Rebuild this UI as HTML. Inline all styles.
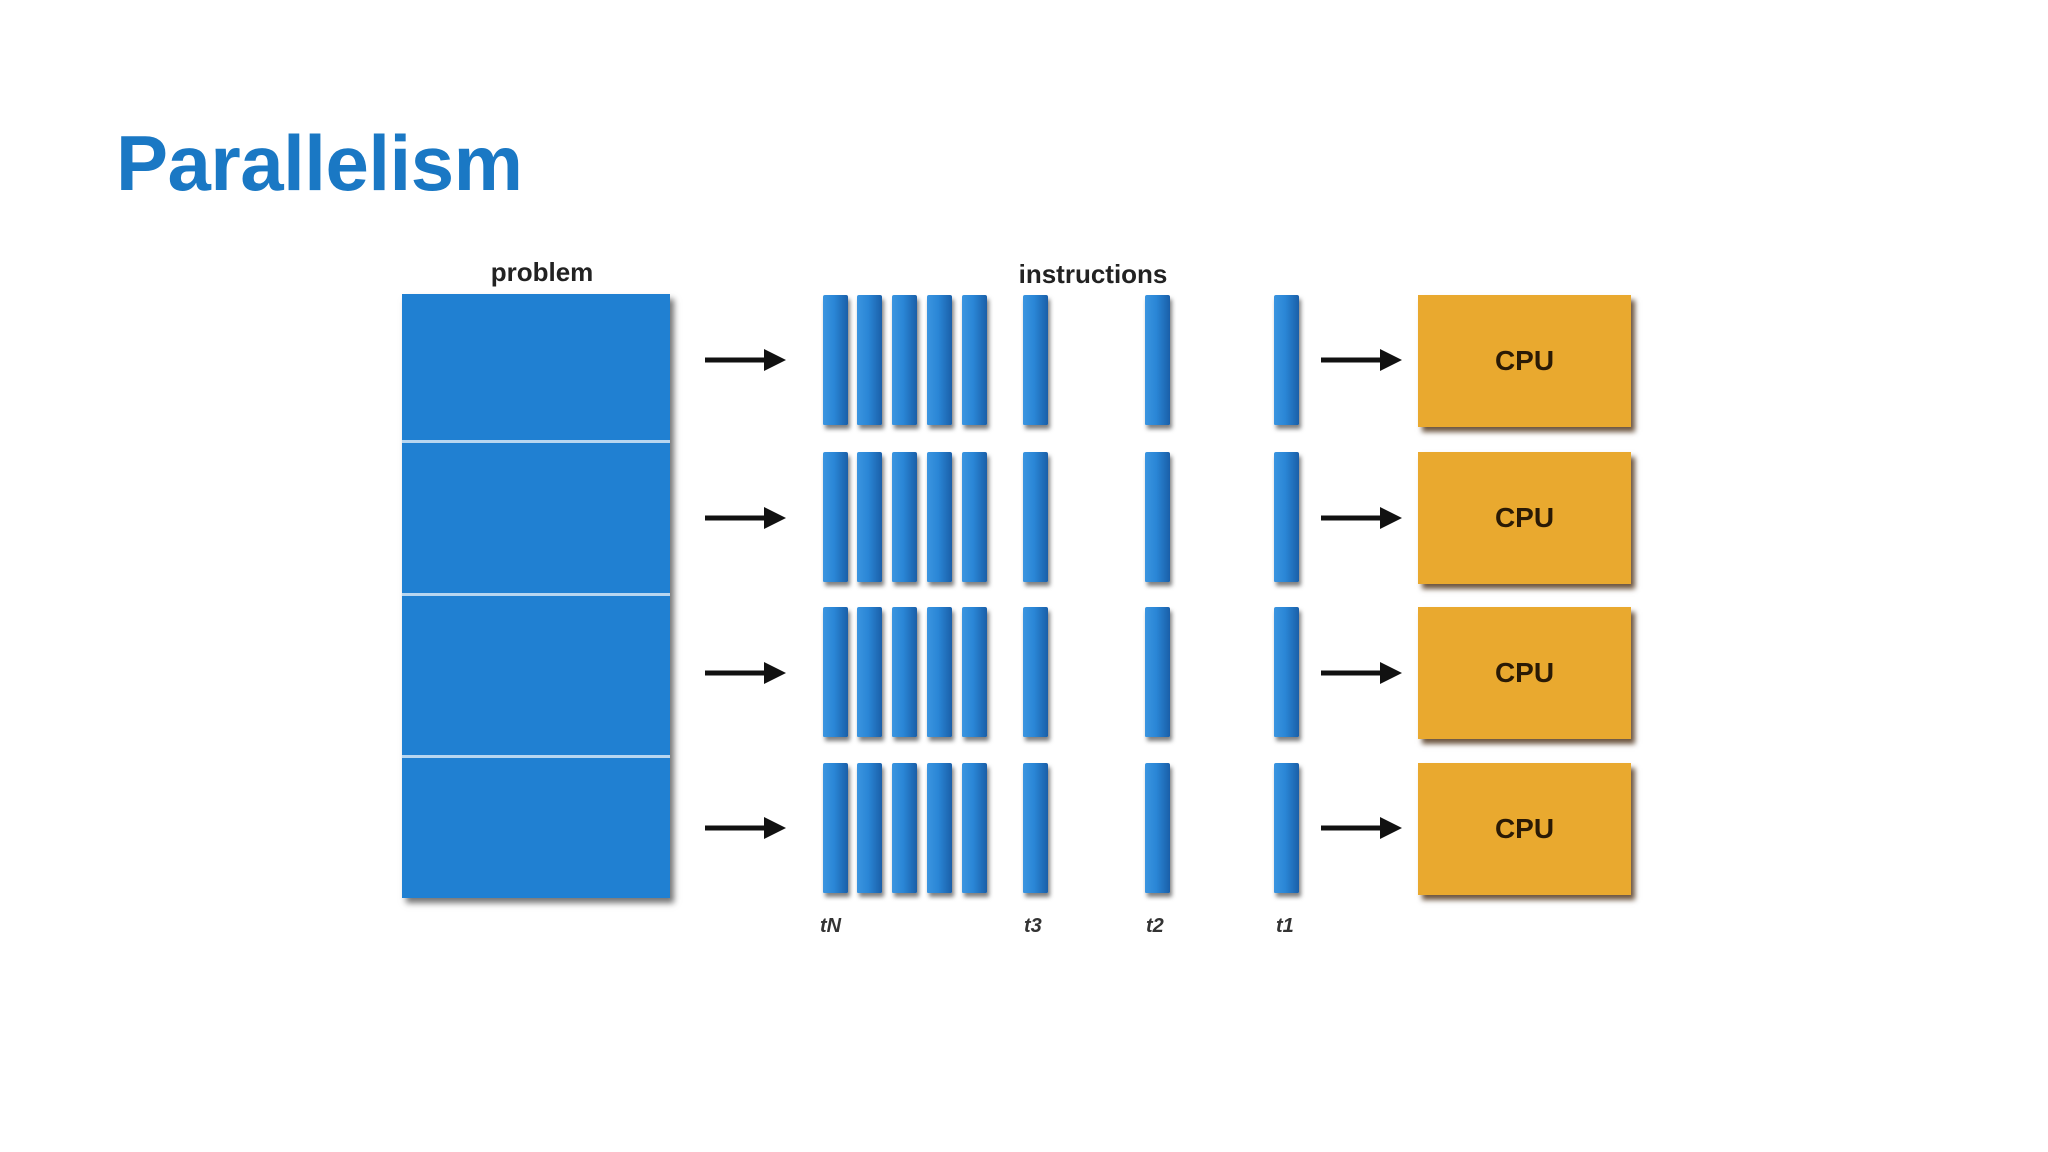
<!DOCTYPE html>
<html><head><meta charset="utf-8"><style>
html,body{margin:0;padding:0;background:#fff;}
body{width:2048px;height:1152px;position:relative;overflow:hidden;font-family:"Liberation Sans",Arial,sans-serif;}
.t{position:absolute;left:116px;top:118px;font-size:78px;font-weight:bold;color:#1a78c4;letter-spacing:-0.5px;}
.lbl{position:absolute;font-weight:bold;font-size:26px;color:#222;transform:translateX(-50%);}
.prob{position:absolute;left:402px;top:294px;width:268px;height:604px;background:#2080d2;box-shadow:4px 5px 6px rgba(0,0,0,0.55);}
.div{position:absolute;left:402px;width:268px;height:3px;background:#b8d6f0;}
.bar{position:absolute;width:25px;height:130px;background:linear-gradient(90deg,#3b95e0 0%,#2a86d6 45%,#1a5fa8 100%);box-shadow:2px 4px 4px rgba(0,0,0,0.5);border-radius:2px 2px 1px 1px;}
.cpu{position:absolute;left:1418px;width:213px;height:132px;background:#e9a92f;box-shadow:4px 5px 5px rgba(60,30,0,0.75);font-weight:bold;font-size:28px;color:#2a1a05;display:flex;align-items:center;justify-content:center;}
.ti{position:absolute;top:915px;font-style:italic;font-weight:bold;font-size:20px;color:#333;}
svg{position:absolute;left:0;top:0;}
</style></head><body>
<div class="t">Parallelism</div>
<div class="lbl" style="left:542px;top:257px;">problem</div>
<div class="lbl" style="left:1093px;top:259px;">instructions</div>
<div class="prob"></div>
<div class="div" style="top:440px"></div>
<div class="div" style="top:593px"></div>
<div class="div" style="top:755px"></div>

<!-- bars -->
<div id="bars"></div>
<div class="bar" style="left:823px;top:295px"></div><div class="bar" style="left:857px;top:295px"></div><div class="bar" style="left:892px;top:295px"></div><div class="bar" style="left:927px;top:295px"></div><div class="bar" style="left:962px;top:295px"></div><div class="bar" style="left:1023px;top:295px"></div><div class="bar" style="left:1145px;top:295px"></div><div class="bar" style="left:1274px;top:295px"></div>
<div class="bar" style="left:823px;top:452px"></div><div class="bar" style="left:857px;top:452px"></div><div class="bar" style="left:892px;top:452px"></div><div class="bar" style="left:927px;top:452px"></div><div class="bar" style="left:962px;top:452px"></div><div class="bar" style="left:1023px;top:452px"></div><div class="bar" style="left:1145px;top:452px"></div><div class="bar" style="left:1274px;top:452px"></div>
<div class="bar" style="left:823px;top:607px"></div><div class="bar" style="left:857px;top:607px"></div><div class="bar" style="left:892px;top:607px"></div><div class="bar" style="left:927px;top:607px"></div><div class="bar" style="left:962px;top:607px"></div><div class="bar" style="left:1023px;top:607px"></div><div class="bar" style="left:1145px;top:607px"></div><div class="bar" style="left:1274px;top:607px"></div>
<div class="bar" style="left:823px;top:763px"></div><div class="bar" style="left:857px;top:763px"></div><div class="bar" style="left:892px;top:763px"></div><div class="bar" style="left:927px;top:763px"></div><div class="bar" style="left:962px;top:763px"></div><div class="bar" style="left:1023px;top:763px"></div><div class="bar" style="left:1145px;top:763px"></div><div class="bar" style="left:1274px;top:763px"></div>

<div class="cpu" style="top:295px">CPU</div>
<div class="cpu" style="top:452px">CPU</div>
<div class="cpu" style="top:607px">CPU</div>
<div class="cpu" style="top:763px">CPU</div>

<div class="ti" style="left:820px">tN</div>
<div class="ti" style="left:1024px">t3</div>
<div class="ti" style="left:1146px">t2</div>
<div class="ti" style="left:1276px">t1</div>

<svg width="2048" height="1152">
<g fill="#111" stroke="#111">
<g id="a1">
<line x1="705" y1="360" x2="770" y2="360" stroke-width="5"/><polygon points="764,349 786,360 764,371" stroke="none"/>
<line x1="705" y1="518" x2="770" y2="518" stroke-width="5"/><polygon points="764,507 786,518 764,529" stroke="none"/>
<line x1="705" y1="673" x2="770" y2="673" stroke-width="5"/><polygon points="764,662 786,673 764,684" stroke="none"/>
<line x1="705" y1="828" x2="770" y2="828" stroke-width="5"/><polygon points="764,817 786,828 764,839" stroke="none"/>
</g>
<line x1="1321" y1="360" x2="1386" y2="360" stroke-width="5"/><polygon points="1380,349 1402,360 1380,371" stroke="none"/>
<line x1="1321" y1="518" x2="1386" y2="518" stroke-width="5"/><polygon points="1380,507 1402,518 1380,529" stroke="none"/>
<line x1="1321" y1="673" x2="1386" y2="673" stroke-width="5"/><polygon points="1380,662 1402,673 1380,684" stroke="none"/>
<line x1="1321" y1="828" x2="1386" y2="828" stroke-width="5"/><polygon points="1380,817 1402,828 1380,839" stroke="none"/>
</g>
</svg>
</body></html>
